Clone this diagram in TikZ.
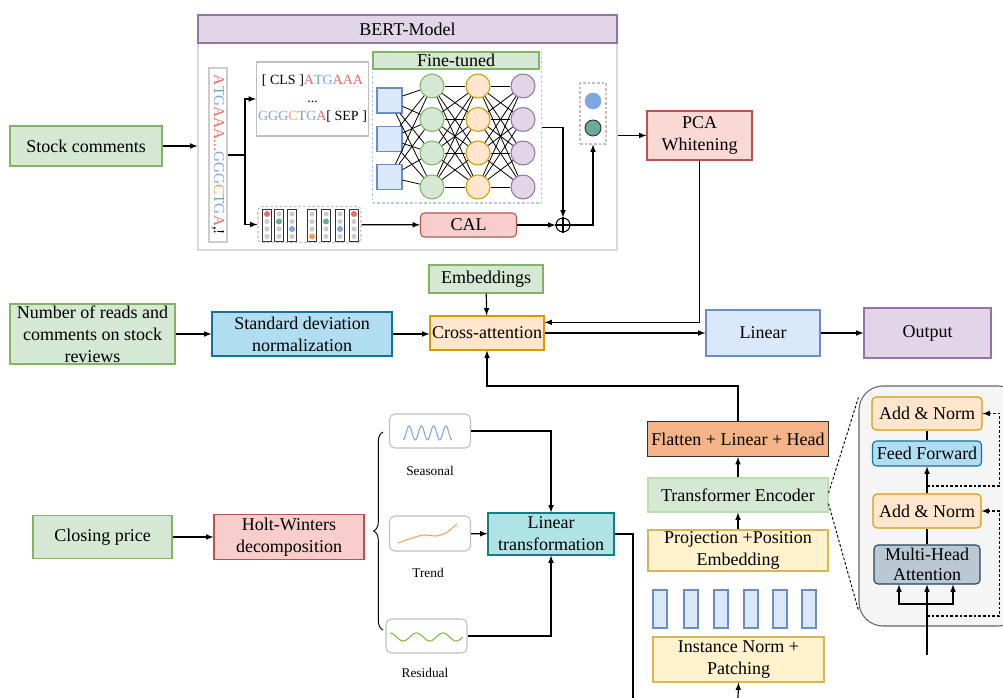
\documentclass[tikz,border=0pt]{standalone}
\usepackage{fontspec}
\setmainfont{Liberation Serif}
\usetikzlibrary{arrows,decorations.pathreplacing}
\definecolor{gfill}{HTML}{D5E8D4}
\definecolor{gdraw}{HTML}{82B366}
\definecolor{rfill}{HTML}{F8CECC}
\definecolor{rdraw}{HTML}{B85450}
\definecolor{pcafill}{HTML}{FAD9D5}
\definecolor{bfill}{HTML}{DAE8FC}
\definecolor{bdraw}{HTML}{6C8EBF}
\definecolor{pfill}{HTML}{E1D5E7}
\definecolor{pdraw}{HTML}{9673A6}
\definecolor{ofill}{HTML}{FFE6CC}
\definecolor{odraw}{HTML}{D79B00}
\definecolor{yfill}{HTML}{FFF2CC}
\definecolor{ydraw}{HTML}{D6B656}
\definecolor{sfill}{HTML}{B1DDF0}
\definecolor{sdraw}{HTML}{10739E}
\definecolor{tfill}{HTML}{B0E3E6}
\definecolor{tdraw}{HTML}{0E8088}
\definecolor{mfill}{HTML}{BAC8D3}
\definecolor{mdraw}{HTML}{23445D}
\definecolor{flatfill}{RGB}{245,180,135}
\definecolor{tedraw}{HTML}{B9E0A5}
\definecolor{seqred}{HTML}{EA6B66}
\definecolor{seqteal}{HTML}{67AB9F}
\definecolor{seqblue}{HTML}{7EA6E0}
\definecolor{seqorange}{RGB}{245,160,90}
\definecolor{resgreen}{RGB}{120,190,70}
\newcommand{\mainsz}{\fontsize{13.5}{16.5}\selectfont}
\newcommand{\smallsz}{\fontsize{10}{12}\selectfont}
\newcommand{\toksz}{\fontsize{10.5}{13.5}\selectfont}
\tikzstyle{blk}=[draw, rectangle, align=center, inner sep=1pt, line width=.8pt, font=\mainsz]
\tikzset{wh/.style 2 args={minimum width=#1*0.75pt, minimum height=#2*0.75pt}}
\tikzstyle{rnd}=[rounded corners=3pt]
\tikzstyle{arr}=[-latex, line width=.9pt]
\tikzstyle{neuron}=[circle, draw, line width=.8pt, minimum size=18pt, inner sep=0pt]
\tikzstyle{dsh}=[dash pattern=on 2pt off 1.5pt]
\tikzstyle{minibox}=[draw=black!25, line width=.8pt, rounded corners=4pt]

\begin{document}
\begin{tikzpicture}[x=0.75pt, y=-0.75pt]
  \useasboundingbox (0,0) rectangle (1003,698);

  %% BERT part
  \draw (407.5,132.5) node[draw=black!15, line width=.8pt, wh={419}{235}] (bertbox) {};
  \draw (407.5,29) node[blk, wh={419}{28}, fill=pfill, draw=pdraw] (bert) {BERT-Model};
  \draw (86,146) node[blk, wh={152}{40}, fill=gfill, draw=gdraw] (stock) {Stock comments};

  \draw (218,155) node[draw=black!20, line width=.8pt, wh={18}{174}] (seq) {};
  \draw (218,155) node[rotate=-90, font=\fontsize{11.5}{12}\selectfont] (seqtxt)
    {\textcolor{seqred}{A}\textcolor{seqteal}{T}\textcolor{seqblue}{G}\textcolor{seqred}{AAA...}\textcolor{seqblue}{GGG}\textcolor{seqorange}{C}\textcolor{seqteal}{T}\textcolor{seqblue}{G}\textcolor{seqred}{A},!};

  \draw (312.5,99) node[draw=black!25, line width=1pt, wh={111}{74}, inner sep=1pt, align=center, font=\toksz] (tok)
    {[ CLS ]\textcolor{seqred}{A}\textcolor{seqteal}{T}\textcolor{seqblue}{G}\textcolor{seqred}{AAA}\\
     ...\\
     \textcolor{seqblue}{GGG}\textcolor{seqorange}{C}\textcolor{seqteal}{T}\textcolor{seqblue}{G}\textcolor{seqred}{A}[ SEP ]};

  \draw (457,127.5) node[draw=seqblue!60, dsh, line width=.8pt, wh={169}{151}] (ft) {};
  \draw (456,60.5) node[blk, inner sep=0pt, wh={166}{17}, fill=gfill, draw=gdraw] (fttitle) {Fine-tuned};

  \foreach \y [count=\i] in {100.5,139,177} {
    \draw (389.5,\y) node[draw=bdraw, fill=bfill, line width=.8pt, wh={25}{25}] (in\i) {};
  }
  \foreach \y [count=\i] in {86,119.5,153,187} {
    \draw (432,\y) node[neuron, fill=gfill, draw=gdraw] (g\i) {};
    \draw (478,\y) node[neuron, fill=ofill, draw=odraw] (o\i) {};
    \draw (523,\y) node[neuron, fill=pfill, draw=pdraw] (p\i) {};
  }
  \foreach \a in {1,2,3} \foreach \b in {1,...,4} \draw[line width=.6pt] (in\a) -- (g\b);
  \foreach \a in {1,...,4} \foreach \b in {1,...,4} {
    \draw[line width=.6pt] (g\a) -- (o\b);
    \draw[line width=.6pt] (o\a) -- (p\b);
  }

  %% token vectors
  \draw (309.5,224.5) node[draw=black!25, dsh, rounded corners=3pt, line width=.8pt, wh={103}{36}] (vecs) {};
  \foreach \x/\p/\c [count=\k] in {267/1/seqred, 279/2/seqteal, 292/3/seqblue, 312/4/seqorange, 326/2/seqteal, 340/3/seqblue, 354/1/seqred} {
    \draw (\x,225) node[draw=black!80, line width=.7pt, wh={7}{32}] (col\k) {};
    \foreach \q in {1,...,4} \fill[black!20] (\x,206.5+7.5*\q) circle (2.6);
    \fill[\c] (\x,206.5+7.5*\p) circle (3);
  }

  \draw (468.5,225) node[blk, rnd, wh={96}{24}, fill=rfill, draw=rdraw] (cal) {CAL};
  \draw (563,225) node[circle, draw, line width=.8pt, minimum size=10.5pt, inner sep=0pt] (plus) {};
  \draw[line width=.8pt] (plus.north) -- (plus.south) (plus.west) -- (plus.east);

  \draw (593,113.5) node[draw=black!25, dsh, line width=.8pt, wh={26}{61}] (pool) {};
  \draw (593,101) node[circle, fill=seqblue, draw=seqblue, minimum size=12pt, inner sep=0pt] (cls1) {};
  \draw (593,128) node[circle, fill=seqteal, draw=black!80, line width=.7pt, minimum size=12pt, inner sep=0pt] (cls2) {};

  \draw (699.5,135.5) node[blk, wh={105}{49}, fill=pcafill, draw=rdraw] (pca) {PCA\\Whitening};

  \draw[arr] (stock.east) -- (stock.east -| bertbox.west);
  \draw[line width=.9pt] (seq.east) -- (245,155) coordinate (split);
  \draw[arr] (split) |- (tok.west);
  \draw[arr] (split) |- (vecs.west);
  \draw[arr] (vecs) -- (cal);
  \draw[arr] (cal) -- (plus);
  \draw[arr] (ft.east) -| (plus.north);
  \draw[arr] (plus.east) -| (pool.south);
  \draw[arr] (bertbox.east |- pca) -- (pca);

  %% middle row
  \draw (486,279) node[blk, wh={114}{28}, fill=gfill, draw=gdraw] (emb) {Embeddings};
  \draw (92.5,334) node[blk, wh={165}{60}, fill=gfill, draw=gdraw] (reads) {Number of reads and\\comments on stock\\reviews};
  \draw (302,334) node[blk, wh={180}{44}, fill=sfill, draw=sdraw] (std) {Standard deviation\\normalization};
  \draw (487,333) node[blk, wh={114}{34}, fill=ofill, draw=odraw] (cross) {Cross-attention};
  \draw (763,333) node[blk, wh={114}{46}, fill=bfill, draw=bdraw] (linear) {Linear};
  \draw (927.5,333) node[blk, wh={127}{50}, fill=pfill, draw=pdraw] (out) {Output};

  \draw[arr] (reads) -- (std);
  \draw[arr] (std.east) -- (std.east -| cross.west);
  \draw[arr] (emb) -- (cross);
  \draw[arr] (pca.south) |- ([yshift=8pt]cross.east);
  \draw[arr] (cross.east) -- (linear.west);
  \draw[arr] (linear) -- (out);

  %% decomposition
  \draw (102.5,537) node[blk, wh={139}{43}, fill=gfill, draw=gdraw] (close) {Closing price};
  \draw (289,537) node[blk, wh={150}{45}, fill=rfill, draw=rdraw] (hw) {Holt-Winters\\decomposition};
  \draw[arr] (close) -- (hw);
  \draw[line width=.7pt, decorate, decoration={brace, amplitude=7pt}] (383,630) -- (383,432);

  \draw (430,431) node[minibox, wh={81}{34}] (seas) {};
  \draw (430,533.5) node[minibox, wh={81}{35}] (trend) {};
  \draw (426.5,636) node[minibox, wh={81}{34}] (resid) {};
  \draw[seqblue, line width=.8pt] plot[domain=0:4, samples=80] ({403+12.25*\x}, {433+7*cos(360*\x)});
  \draw[seqorange, line width=.8pt] plot[smooth] coordinates {(398,543) (412,538) (424,535) (436,536) (446,533) (457,524)};
  \draw[resgreen, line width=.8pt] plot[domain=0:2.75, samples=80] ({390+26.5*\x}, {637-4*cos(360*\x)});
  \draw (430,471) node[font=\smallsz] (seaslbl) {Seasonal};
  \draw (428,573) node[font=\smallsz] (trendlbl) {Trend};
  \draw (425,673) node[font=\smallsz] (residlbl) {Residual};

  \draw (551,534) node[blk, wh={126}{42}, fill=tfill, draw=tdraw] (lt) {Linear\\transformation};
  \draw[arr] (seas.east) -| (lt.north);
  \draw[arr] (trend) -- (lt);
  \draw[arr] (resid.east) -| (lt.south);
  \coordinate (ltdown) at (633,698);
  \draw[line width=.9pt] (lt.east) -| (ltdown);

  %% patch transformer
  \draw (738,439) node[blk, wh={181}{35}, fill=flatfill, draw=black!80] (flat) {Flatten + Linear + Head};
  \draw (738,495) node[blk, wh={180}{34}, fill=gfill, draw=tedraw] (te) {Transformer Encoder};
  \draw (738,550.5) node[blk, wh={180}{41}, fill=yfill, draw=ydraw] (proj) {Projection +Position\\Embedding};
  \foreach \x [count=\k] in {660,691,721,751,780,809} {
    \draw (\x,609) node[draw=bdraw, fill=bfill, line width=.8pt, wh={14}{38}] (patch\k) {};
  }
  \draw (738.5,659.5) node[blk, wh={171}{45}, fill=yfill, draw=ydraw] (inst) {Instance Norm +\\Patching};
  \coordinate (instin) at (738,698);
  \draw[arr] (instin) -- (inst.south);
  \draw[arr] (proj) -- (te);
  \draw[arr] (te) -- (flat);
  \draw[arr] (flat.north) -- ++(0,-35) -| (cross.south);

  %% encoder detail
  \begin{scope}
    \clip (0,0) rectangle (1003,698);
    \draw (940.5,506) node[draw=black!60, fill=black!4, line width=.8pt, rounded corners=18pt, wh={163}{240}] (encbox) {};
  \end{scope}
  \draw (927,413.5) node[blk, rnd, wh={110}{33}, fill=ofill, draw=odraw] (an2) {Add \& Norm};
  \draw (927,453.5) node[blk, rnd, wh={109}{25}, fill=sfill, draw=sdraw] (ff) {Feed Forward};
  \draw (927,511) node[blk, rnd, wh={108}{34}, fill=ofill, draw=odraw] (an1) {Add \& Norm};
  \draw (927,564.5) node[blk, rnd, wh={106}{39}, fill=mfill, draw=mdraw, font=\fontsize{13.5}{15.5}\selectfont] (mha) {Multi-Head\\Attention};
  \draw[line width=.9pt] (an2) -- (ff);
  \draw[arr] (an1) -- (ff);
  \draw[line width=.9pt] (mha) -- (an1);
  \coordinate (encin) at (927,655);
  \coordinate (qk) at (927,604);
  \draw[arr] (encin) -- (mha.south);
  \draw[arr] (qk) -| ([xshift=-21pt]mha.south);
  \draw[arr] (qk) -| ([xshift=19.5pt]mha.south);
  \coordinate (res1) at (927,616);
  \coordinate (res2) at (927,486);
  \draw[dsh, -latex, line width=.9pt] (res1) -| ([xshift=13.5pt]an1.east) -- (an1.east);
  \draw[dsh, -latex, line width=.9pt] (res2) -| ([xshift=13pt]an2.east) -- (an2.east);
  \draw[dsh, line width=.7pt] ([yshift=1.5pt]te.east) -- ([yshift=-9pt]encbox.north west);
  \draw[dsh, line width=.7pt] ([yshift=-6.5pt]te.east) -- ([yshift=12pt]encbox.south west);
\end{tikzpicture}
\end{document}
